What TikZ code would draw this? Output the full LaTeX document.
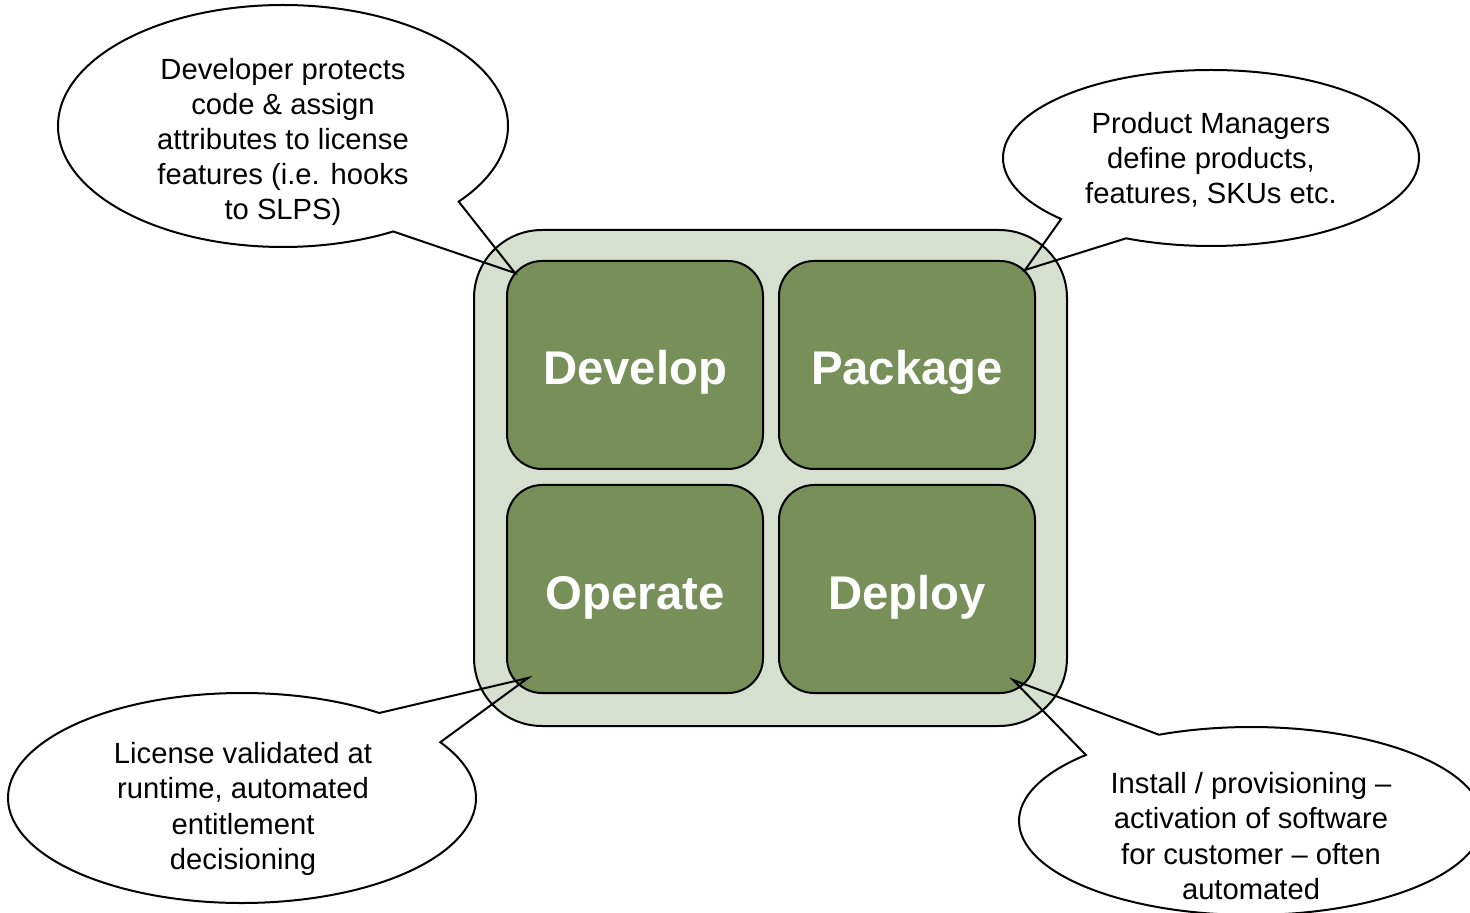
\documentclass[tikz,border=0pt]{standalone}
\usepackage{fontspec}
\setmainfont{Liberation Sans}
\usetikzlibrary{shapes.callouts}

\definecolor{phasegreen}{RGB}{119,143,89}
\definecolor{framegreen}{RGB}{215,223,206}

\begin{document}
\begin{tikzpicture}[x=0.5pt,y=-0.5pt,
	frame/.style={draw,line width=1pt,fill=framegreen,rounded corners=34pt,minimum width=296.5pt,minimum height=248pt,inner sep=0,outer sep=0},
	phase/.style={draw,line width=1pt,fill=phasegreen,rounded corners=17.5pt,minimum width=128pt,minimum height=104pt,inner sep=0,outer sep=0,text=white,text height=20pt,text depth=0pt,font=\fontsize{23.65}{28}\selectfont\bfseries},
	bubble/.style={draw,line width=1pt,ellipse callout,callout pointer arc=22,inner sep=0,outer sep=0},
	note/.style={align=center,font=\fontsize{14.6}{17.6}\selectfont}]
	\fill[white] (0,0) rectangle (1470,913);
	\useasboundingbox (0,0) rectangle (1470,913);
	% lifecycle
	\node[frame] (cycle) at (770.5,478) {};
	\node[phase] (develop) at (635,365) {Develop};
	\node[phase] (package) at (907,365) {Package};
	\node[phase] (operate) at (635,589) {Operate};
	\node[phase] (deploy) at (907,589) {Deploy};
	% pointer tips
	\coordinate (devtip) at (515,273);
	\coordinate (pkgtip) at (1025,270);
	\coordinate (optip) at (528,678);
	\coordinate (deptip) at (1013,680);
	% callouts
	\node[bubble,minimum width=225pt,minimum height=121pt,callout absolute pointer={(devtip)}] (devnote) at (283,126) {};
	\node[bubble,minimum width=208pt,minimum height=88pt,callout absolute pointer={(pkgtip)}] (pkgnote) at (1211,158) {};
	\node[bubble,minimum width=234pt,minimum height=105pt,callout absolute pointer={(optip)}] (opnote) at (242,798) {};
	\node[bubble,minimum width=232pt,minimum height=94pt,callout absolute pointer={(deptip)}] (depnote) at (1251,821) {};
	\node[note] (devtext) at (283,142) {Developer protects\\code \& assign\\attributes to license\\features (i.e. hooks\\to SLPS)};
	\node[note] (pkgtext) at (1211,160) {Product Managers\\define products,\\features, SKUs etc.};
	\node[note] (optext) at (243,809) {License validated at\\runtime, automated\\entitlement\\decisioning};
	\node[note] (deptext) at (1251,836) {Install / provisioning --\\activation of software\\for customer -- often\\automated};
\end{tikzpicture}
\end{document}
